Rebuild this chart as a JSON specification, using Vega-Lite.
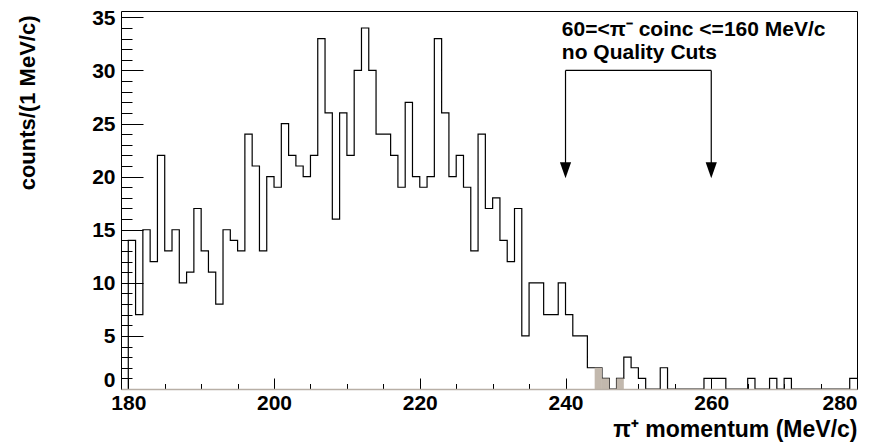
{
  "$schema": "https://vega.github.io/schema/vega-lite/v6.json",
  "width": 736,
  "height": 378,
  "autosize": {"type": "none"},
  "padding": {"left": 121, "top": 11, "right": 25, "bottom": 58},
  "background": "white",
  "config": {
    "view": {"stroke": null},
    "axis": {"grid": false, "labelFont": "Liberation Sans", "titleFont": "Liberation Sans", "labelFontWeight": "bold", "titleFontWeight": "bold", "labelColor": "black", "titleColor": "black", "tickColor": "black", "domainColor": "black", "tickWidth": 1, "domainWidth": 1}
  },
  "datasets": {
    "hist": [
      {"i":0,"x":180,"n":0},{"i":1,"x":180,"n":14},{"i":2,"x":181,"n":7},{"i":3,"x":182,"n":15},{"i":4,"x":183,"n":12},{"i":5,"x":184,"n":22},{"i":6,"x":185,"n":13},{"i":7,"x":186,"n":15},{"i":8,"x":187,"n":10},{"i":9,"x":188,"n":11},{"i":10,"x":189,"n":17},
      {"i":11,"x":190,"n":13},{"i":12,"x":191,"n":11},{"i":13,"x":192,"n":8},{"i":14,"x":193,"n":15},{"i":15,"x":194,"n":14},{"i":16,"x":195,"n":13},{"i":17,"x":196,"n":24},{"i":18,"x":197,"n":21},{"i":19,"x":198,"n":13},{"i":20,"x":199,"n":20},
      {"i":21,"x":200,"n":19},{"i":22,"x":201,"n":25},{"i":23,"x":202,"n":22},{"i":24,"x":203,"n":21},{"i":25,"x":204,"n":20},{"i":26,"x":205,"n":22},{"i":27,"x":206,"n":33},{"i":28,"x":207,"n":26},{"i":29,"x":208,"n":16},{"i":30,"x":209,"n":26},
      {"i":31,"x":210,"n":22},{"i":32,"x":211,"n":30},{"i":33,"x":212,"n":34},{"i":34,"x":213,"n":30},{"i":35,"x":214,"n":24},{"i":36,"x":215,"n":24},{"i":37,"x":216,"n":22},{"i":38,"x":217,"n":19},{"i":39,"x":218,"n":27},{"i":40,"x":219,"n":20},
      {"i":41,"x":220,"n":19},{"i":42,"x":221,"n":20},{"i":43,"x":222,"n":33},{"i":44,"x":223,"n":26},{"i":45,"x":224,"n":20},{"i":46,"x":225,"n":22},{"i":47,"x":226,"n":19},{"i":48,"x":227,"n":13},{"i":49,"x":228,"n":24},{"i":50,"x":229,"n":17},
      {"i":51,"x":230,"n":18},{"i":52,"x":231,"n":14},{"i":53,"x":232,"n":12},{"i":54,"x":233,"n":17},{"i":55,"x":234,"n":5},{"i":56,"x":235,"n":10},{"i":57,"x":236,"n":10},{"i":58,"x":237,"n":7},{"i":59,"x":238,"n":7},{"i":60,"x":239,"n":10},
      {"i":61,"x":240,"n":7},{"i":62,"x":241,"n":5},{"i":63,"x":242,"n":5},{"i":64,"x":243,"n":2},{"i":65,"x":244,"n":2},{"i":66,"x":245,"n":1},{"i":67,"x":246,"n":0},{"i":68,"x":247,"n":1},{"i":69,"x":248,"n":3},{"i":70,"x":249,"n":2},
      {"i":71,"x":250,"n":1},{"i":72,"x":251,"n":0},{"i":73,"x":252,"n":0},{"i":74,"x":253,"n":2},{"i":75,"x":254,"n":0},{"i":76,"x":255,"n":0},{"i":77,"x":256,"n":0},{"i":78,"x":257,"n":0},{"i":79,"x":258,"n":0},{"i":80,"x":259,"n":1},
      {"i":81,"x":260,"n":1},{"i":82,"x":261,"n":1},{"i":83,"x":262,"n":0},{"i":84,"x":263,"n":0},{"i":85,"x":264,"n":0},{"i":86,"x":265,"n":1},{"i":87,"x":266,"n":0},{"i":88,"x":267,"n":0},{"i":89,"x":268,"n":1},{"i":90,"x":269,"n":0},
      {"i":91,"x":270,"n":1},{"i":92,"x":271,"n":0},{"i":93,"x":272,"n":0},{"i":94,"x":273,"n":0},{"i":95,"x":274,"n":0},{"i":96,"x":275,"n":0},{"i":97,"x":276,"n":0},{"i":98,"x":277,"n":0},{"i":99,"x":278,"n":0},{"i":100,"x":279,"n":1},
      {"i":101,"x":280,"n":1}
    ],
    "gray": [
      {"x":244,"x2":245,"n":2},{"x":245,"x2":246,"n":1},{"x":247,"x2":248,"n":1}
    ],
    "bracket": [
      {"x":240,"x2":260,"y":30,"y2":30},{"x":240,"x2":240,"y":30,"y2":21},{"x":260,"x2":260,"y":30,"y2":21}
    ],
    "heads": [{"x":240,"y":20.6},{"x":260,"y":20.6}],
    "notes": [
      {"x":239.5,"y":33.2,"label":"60=<π⁻ coinc <=160 MeV/c"},
      {"x":239.5,"y":31.12,"label":"no Quality Cuts"}
    ]
  },
  "layer": [
    {
      "data": {"name": "hist"},
      "mark": {"type": "line", "interpolate": "step-after", "color": "black", "strokeWidth": 1.2},
      "encoding": {
        "x": {"field": "x", "type": "quantitative", "scale": {"domain": [179, 280], "nice": false, "zero": false},
          "axis": {"orient": "bottom", "values": [180, 200, 220, 240, 260, 280], "tickSize": -11, "domainColor": "#b8afa6", "domainWidth": 1.6, "zindex": 1, "labelFontSize": 21, "labelPadding": 14, "title": "π⁺ momentum (MeV/c)", "titleFontSize": 23, "titleAnchor": "end", "titleAlign": "right", "titleX": 736, "titleY": 47, "titleBaseline": "alphabetic"}},
        "y": {"field": "n", "type": "quantitative", "scale": {"domain": [0, 35.6], "nice": false},
          "axis": {"orient": "left", "values": [0, 5, 10, 15, 20, 25, 30, 35], "tickSize": -22, "labelFontSize": 21, "labelPadding": 28, "labelOffset": {"condition": {"test": "datum.value === 0", "value": -9}, "value": 1}, "title": "counts/(1 MeV/c)", "titleFontSize": 22, "titleAngle": 270, "titleAlign": "right", "titleBaseline": "alphabetic", "titleX": -87, "titleY": 4}},
        "order": {"field": "i", "type": "quantitative"}
      }
    },
    {
      "data": {"name": "gray"},
      "mark": {"type": "rect", "color": "#c2b8ad"},
      "encoding": {
        "x": {"field": "x", "type": "quantitative", "scale": {"domain": [179, 280], "nice": false, "zero": false},
          "axis": {"orient": "top", "ticks": false, "labels": false, "title": null, "domain": true}},
        "x2": {"field": "x2"},
        "y": {"field": "n", "type": "quantitative", "scale": {"domain": [0, 35.6], "nice": false},
          "axis": {"orient": "right", "ticks": false, "labels": false, "title": null, "domain": true}},
        "y2": {"datum": 0}
      }
    },
    {
      "data": {"name": "bracket"},
      "mark": {"type": "rule", "color": "black", "strokeWidth": 1.2},
      "encoding": {
        "x": {"field": "x", "type": "quantitative", "scale": {"domain": [179, 280], "nice": false, "zero": false},
          "axis": {"orient": "bottom", "values": [180,185,190,195,200,205,210,215,220,225,230,235,240,245,250,255,260,265,270,275,280], "tickSize": -5.5, "labels": false, "domain": false, "title": null}},
        "x2": {"field": "x2"},
        "y": {"field": "y", "type": "quantitative", "scale": {"domain": [0, 35.6], "nice": false},
          "axis": {"orient": "left", "values": [0,1,2,3,4,5,6,7,8,9,10,11,12,13,14,15,16,17,18,19,20,21,22,23,24,25,26,27,28,29,30,31,32,33,34,35], "tickSize": -11, "labels": false, "domain": false, "title": null}},
        "y2": {"field": "y2"}
      }
    },
    {
      "data": {"name": "heads"},
      "mark": {"type": "point", "shape": "M-0.7,-1L0.7,-1L0,1Z", "size": 256, "filled": true, "color": "black", "opacity": 1},
      "encoding": {
        "x": {"field": "x", "type": "quantitative", "scale": {"domain": [179, 280], "nice": false, "zero": false}, "axis": null},
        "y": {"field": "y", "type": "quantitative", "scale": {"domain": [0, 35.6], "nice": false}, "axis": null}
      }
    },
    {
      "data": {"name": "notes"},
      "mark": {"type": "text", "align": "left", "baseline": "alphabetic", "font": "Liberation Sans", "fontWeight": "bold", "fontSize": 21, "color": "black"},
      "encoding": {
        "x": {"field": "x", "type": "quantitative", "scale": {"domain": [179, 280], "nice": false, "zero": false}, "axis": null},
        "y": {"field": "y", "type": "quantitative", "scale": {"domain": [0, 35.6], "nice": false}, "axis": null},
        "text": {"field": "label"}
      }
    }
  ],
  "resolve": {"axis": {"x": "independent", "y": "independent"}}
}
